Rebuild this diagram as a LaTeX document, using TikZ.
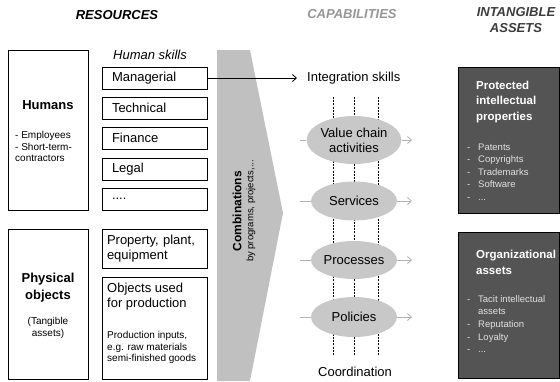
\documentclass[tikz,border=0pt]{standalone}
\usepackage{fontspec}
\setmainfont{Liberation Sans}
\usetikzlibrary{arrows.meta, shapes.geometric}
\definecolor{combgray}{RGB}{192,192,192}
\definecolor{ellgray}{RGB}{200,200,200}
\definecolor{arrgray}{RGB}{178,178,178}
\definecolor{assetgray}{RGB}{84,84,84}
\definecolor{capgray}{RGB}{150,150,150}
\definecolor{intgray}{RGB}{60,60,60}
\definecolor{listgray}{RGB}{225,225,225}

\begin{document}
\begin{tikzpicture}[
    x=1pt, y=-1pt,
    title_text/.style={font=\fontsize{13}{16}\selectfont\bfseries\itshape, align=center},
    big_text/.style={font=\fontsize{13}{15}\selectfont, inner sep=0pt},
    small_text/.style={font=\fontsize{10}{11.6}\selectfont, inner sep=0pt},
    res_box/.style={draw, line width=0.8pt, minimum width=80pt, inner sep=0pt},
    skill_box/.style={draw, line width=0.8pt, minimum width=105pt, minimum height=22pt, text width=85pt, inner xsep=10pt, inner ysep=0pt, align=left, font=\fontsize{13}{15}\selectfont},
    cap_ellipse/.style={ellipse, fill=ellgray, minimum width=86pt, minimum height=40pt, inner sep=0pt, align=center, font=\fontsize{13}{15}\selectfont},
    flow/.style={arrgray, line width=0.8pt},
    asset_box/.style={draw=black, line width=1pt, fill=assetgray, minimum width=101pt, minimum height=146pt, inner sep=0pt},
    asset_head/.style={white, font=\fontsize{11.5}{15.5}\selectfont\bfseries, align=left, inner sep=0pt, anchor=west},
    asset_list/.style={listgray, font=\fontsize{9.5}{12.6}\selectfont, align=left, inner sep=0pt, anchor=west}
]
\useasboundingbox (0,0) rectangle (560,381);

% --- Column titles ---
\node[title_text] (t_res) at (117,15) {RESOURCES};
\node[title_text, capgray] (t_cap) at (352,14) {CAPABILITIES};
\node[title_text, intgray] (t_int) at (516,20) {INTANGIBLE\\ASSETS};

% --- Combination arrow ---
\fill[combgray] (217,50) -- (250,50) -- (283,213) -- (250,381) -- (217,381) -- cycle;
\node[rotate=90, align=center, inner sep=0pt] (comb) at (244,211)
    {{\fontsize{12}{14}\selectfont\bfseries Combinations}\\{\fontsize{9.5}{11}\selectfont by programs, projects,...}};

% --- Resources: humans ---
\node[res_box, minimum height=160pt] (humans) at (48,130) {};
\node[big_text, font=\fontsize{13}{15}\selectfont\bfseries] (humans_t) at (48,105) {Humans};
\node[small_text, align=left, anchor=west] (humans_l) at (15,146.5) {- Employees\\- Short-term-\\contractors};

\node[big_text, font=\fontsize{13}{15}\selectfont\itshape] (skills_t) at (150,55) {Human skills};
\node[skill_box] (managerial) at (154.5,78) {Managerial};
\node[skill_box] (technical) at (154.5,108) {Technical};
\node[skill_box] (finance) at (154.5,138) {Finance};
\node[skill_box] (legal) at (154.5,169) {Legal};
\node[skill_box] (dots) at (154.5,199) {....};

% --- Resources: physical objects ---
\node[res_box, minimum height=150pt] (physical) at (48,304) {};
\node[big_text, font=\fontsize{13}{17}\selectfont\bfseries, align=center] (physical_t) at (48,287.5) {Physical\\objects};
\node[small_text, align=center] (physical_l) at (48,328) {(Tangible\\assets)};

\node[draw, line width=0.8pt, minimum width=105pt, minimum height=39pt, text width=95pt, inner xsep=5pt, inner ysep=0pt, align=left, font=\fontsize{13}{15}\selectfont] (property) at (154.5,248.5) {Property, plant,\\equipment};
\node[res_box, minimum width=105pt, minimum height=102pt] (objects) at (154.5,328) {};
\node[big_text, align=left, anchor=west] (objects_t) at (107,296.5) {Objects used\\for production};
\node[small_text, align=left, anchor=west] (objects_l) at (107,347.5) {Production inputs,\\e.g. raw materials\\semi-finished goods};

% --- Capabilities ---
\node[big_text, anchor=west, inner xsep=10pt] (integ) at (297,78) {Integration skills};
\draw[line width=0.8pt, -{Straight Barb[length=4pt, width=7pt]}] (managerial.east) -- (integ.west);

\foreach \lx [count=\i] in {333,354,378} {
    \coordinate (dtop\i) at (\lx,97);
    \coordinate (dbot\i) at (\lx,355);
    \draw[line width=0.4pt, dash pattern=on 2pt off 1.2pt] (dtop\i) -- (dbot\i);
}

\node[cap_ellipse, minimum height=48pt] (valuechain) at (354,140) {Value chain\\activities};
\node[cap_ellipse, minimum height=39pt] (services) at (354,201) {Services};
\node[cap_ellipse, minimum height=38pt] (processes) at (354,260) {Processes};
\node[cap_ellipse] (policies) at (354,317) {Policies};

\foreach \cap/\cy in {valuechain/140, services/201, processes/260, policies/317} {
    \coordinate (\cap_in) at (300,\cy);
    \coordinate (\cap_out) at (412,\cy);
    \draw[flow] (\cap_in) -- (\cap.west);
    \draw[flow, -{Straight Barb[length=4pt, width=7pt]}] (\cap.east) -- (\cap_out);
}

\node[big_text] (coord) at (355,372) {Coordination};

% --- Intangible assets ---
\node[asset_box] (protected) at (508.5,140) {};
\node[asset_head] (protected_t) at (476,102) {Protected\\intellectual\\properties};
\node[asset_list] (protected_l) at (467,172)
    {\makebox[11pt][l]{-}Patents\\\makebox[11pt][l]{-}Copyrights\\\makebox[11pt][l]{-}Trademarks\\\makebox[11pt][l]{-}Software\\\makebox[11pt][l]{-}...};

\node[asset_box] (organizational) at (508.5,305) {};
\node[asset_head] (organizational_t) at (476,262.5) {Organizational\\assets};
\node[asset_list] (organizational_l) at (467,324)
    {\makebox[11pt][l]{-}Tacit intellectual\\\hspace*{11pt}assets\\\makebox[11pt][l]{-}Reputation\\\makebox[11pt][l]{-}Loyalty\\\makebox[11pt][l]{-}...};

\end{tikzpicture}
\end{document}
